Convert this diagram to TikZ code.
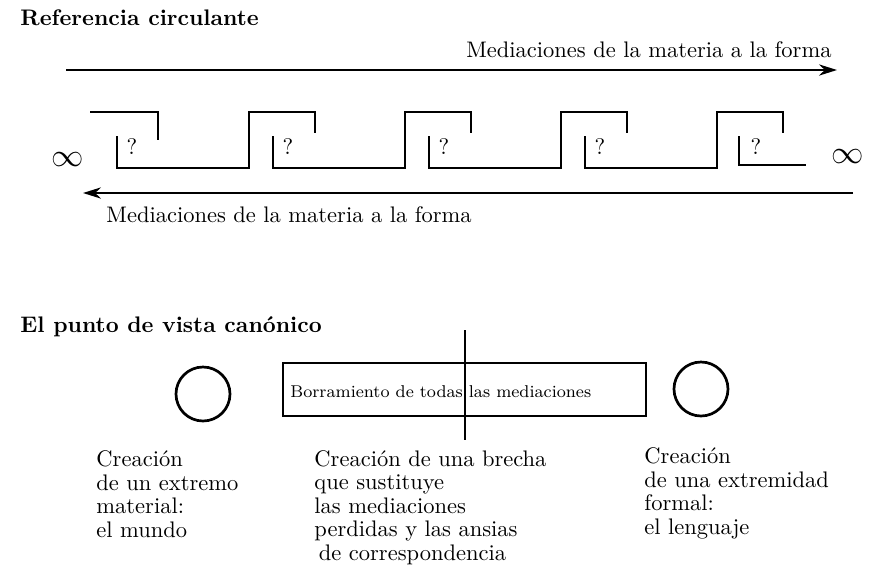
\documentclass[tikz,border=0pt]{standalone}
\usepackage{amsmath,amssymb}
\usepackage{tikz}
\usetikzlibrary{arrows.meta}

\begin{document}
\begin{tikzpicture}[x=0.4444pt,y=-0.4444pt,
  greca/.style={line width=1.3pt},
  flecha/.style={-{Stealth[length=8pt,width=5pt]},line width=0.8pt},
  txt/.style={inner sep=0pt,anchor=base west},
  bloque/.style={inner sep=0pt,anchor=base west,align=left,font=\fontsize{10}{10.4}\selectfont}]
\useasboundingbox (0,0) rectangle (876,576);

% referencia circulante
\node[txt,font=\bfseries] (t1) at (20,25) {Referencia circulante};
\coordinate (a1) at (66,70);
\coordinate (a2) at (837,70);
\draw[flecha] (a1) -- (a2);
\node[txt,anchor=base east] (m1) at (832,57) {Mediaciones de la materia a la forma};

\draw[greca] (90,112) -- (158,112) -- (158,140);
\foreach \i in {0,...,3}
  \draw[greca] (117+156*\i,136) -- (117+156*\i,168) -- (249+156*\i,168)
    -- (249+156*\i,112) -- (315+156*\i,112) -- (315+156*\i,133);
\draw[greca] (739,136) -- (739,165) -- (806,165);
\foreach \i in {0,...,4}
  \node (q\i) at (132+156*\i,147) {?};

\node[font=\Large] (inf1) at (68,160) {$\infty$};
\node[font=\Large] (inf2) at (848,157) {$\infty$};

\coordinate (b1) at (853,193);
\coordinate (b2) at (83,193);
\draw[flecha] (b1) -- (b2);
\node[txt] (m2) at (106,222) {Mediaciones de la materia a la forma};

% punto de vista canonico
\node[txt,font=\bfseries] (t2) at (20,332) {El punto de vista canónico};
\node[draw,circle,line width=1.2pt,minimum size=24pt,inner sep=0pt] (c1) at (203,394) {};
\node[draw,circle,line width=1.2pt,minimum size=24pt,inner sep=0pt] (c2) at (701,389) {};
\node[draw,line width=0.6pt,minimum width=161.3pt,minimum height=23.6pt,inner sep=0pt] (caja) at (464.5,389.5) {};
\node[txt,font=\fontsize{7.6}{9}\selectfont] (borr) at (290,397) {Borramiento de todas las mediaciones};
\coordinate (v1) at (465,330);
\coordinate (v2) at (465,440);
\draw[line width=0.7pt] (v1) -- (v2);

% el ancla base cae en la ultima linea
\node[bloque] (izq) at (96,537) {Creación\\ de un extremo\\ material:\\ el mundo};
\node[bloque] (med) at (314,560) {Creación de una brecha\\ que sustituye\\ las mediaciones\\ perdidas y las ansias\\ \hspace*{2pt}de correspondencia};
\node[bloque] (der) at (644,534) {Creación\\ de una extremidad\\ formal:\\ el lenguaje};
\end{tikzpicture}
\end{document}
